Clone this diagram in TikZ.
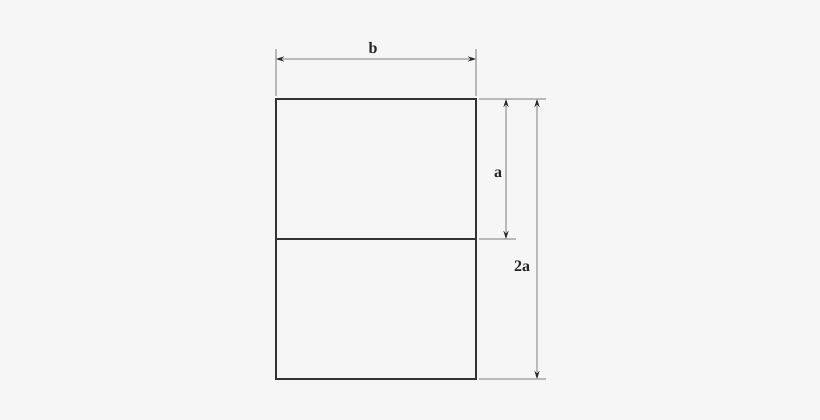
\documentclass[tikz,border=0pt]{standalone}
\usepackage{fontspec}
\setmainfont{Liberation Serif}
\usetikzlibrary{arrows.meta}
\definecolor{bgcol}{HTML}{F6F6F6}
\definecolor{dimcol}{HTML}{B9B9B9}
\definecolor{edgecol}{HTML}{333333}
\tikzset{
  box/.style={draw=edgecol, line width=1.4pt},
  extline/.style={draw=dimcol, line width=1.4pt},
  dimline/.style={draw=dimcol, line width=1.4pt, {Stealth[length=8pt,width=5pt,color=black!85]}-{Stealth[length=8pt,width=5pt,color=black!85]}},
  dimlabel/.style={font=\fontsize{16}{18}\selectfont\bfseries, text=black!85, inner sep=0pt}
}
\begin{document}
\begin{tikzpicture}[x=1pt,y=-1pt]
			\fill[bgcol] (0,0) rectangle (820,420);
			\useasboundingbox (0,0) rectangle (820,420);
			\coordinate (tl) at (276,99);
			\coordinate (tr) at (476,99);
			\coordinate (ml) at (276,239);
			\coordinate (mr) at (476,239);
			\coordinate (bl) at (276,379);
			\coordinate (br) at (476,379);
			\draw[box] (tl) rectangle (br);
			\draw[box] (ml) -- (mr);
			\draw[extline] (276,49) -- (276,96);
			\draw[extline] (476,49) -- (476,96);
			\draw[extline] (479,99) -- (546,99);
			\draw[extline] (479,239) -- (516,239);
			\draw[extline] (479,379) -- (546,379);
			\coordinate (bL) at (276,59);
			\coordinate (bR) at (476,59);
			\coordinate (aT) at (506,99);
			\coordinate (aB) at (506,239);
			\coordinate (cT) at (537,99);
			\coordinate (cB) at (537,379);
			\draw[dimline] (bL) -- (bR);
			\draw[dimline] (aT) -- (aB);
			\draw[dimline] (cT) -- (cB);
			\node[dimlabel] (lb) at (373,48) {b};
			\node[dimlabel] (la) at (498,174) {a};
			\node[dimlabel] (l2a) at (522,266) {2a};
		\end{tikzpicture}
\end{document}
